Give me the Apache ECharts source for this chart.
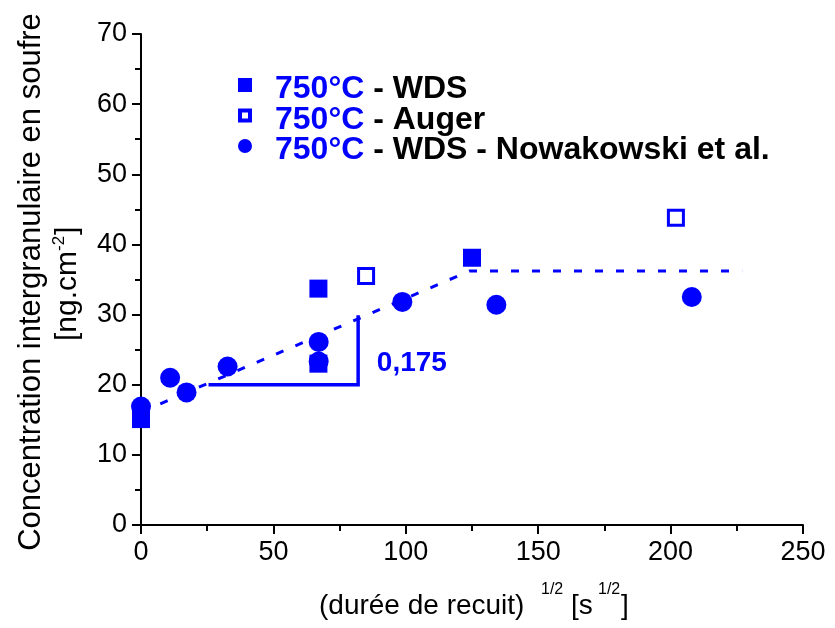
<!DOCTYPE html>
<html>
<head>
<meta charset="utf-8">
<script src="https://cdn.jsdelivr.net/npm/echarts@6/dist/echarts.min.js"></script>
<style>
  html, body { margin: 0; padding: 0; background: #fff; }
  #chart { width: 835px; height: 628px; }
</style>
</head>
<body>
<div id="chart"></div>
<script>
// Sulfur intergranular concentration vs square root of annealing time (750 °C)
const FONT = '"Liberation Sans", Arial, Helvetica, sans-serif';
const BLUE = '#0000ff';

// Series names
const seriesNames = ['750°C - WDS', '750°C - Auger', '750°C - WDS - Nowakowski et al.'];

// WDS measurements
const wdsX = [0, 67, 67, 125];
const wdsY = [15.1, 33.7, 23.0, 38.1];

// Auger measurements
const augerX = [85, 202];
const augerY = [35.5, 43.8];

// WDS data from Nowakowski et al.
const nowakX = [0, 11, 17.2, 32.7, 67.1, 67.1, 98.7, 134.2, 208];
const nowakY = [16.9, 21.0, 18.9, 22.6, 26.1, 23.3, 31.8, 31.4, 32.5];

// Dashed trend: linear growth then plateau
const trendX = [0, 124, 227];
const trendY = [16.1, 36.2, 36.2];

// Slope triangle
const slopeValue = 0.175;
const slopeRunX = [25.5, 82];
const slopeBaseY = 20;
const slopeLabelAt = [102.3, 23.1];

// Axis ranges
const xRange = { min: 0, max: 250, step: 50 };
const yRange = { min: 0, max: 70, step: 10 };

const zip = (xs, ys) => xs.map((x, i) => [x, ys[i]]);

const slopeRise = slopeValue * (slopeRunX[1] - slopeRunX[0]);
const slopeTriangle = [
  [slopeRunX[0], slopeBaseY],
  [slopeRunX[1], slopeBaseY],
  [slopeRunX[1], slopeBaseY + slopeRise]
];

const axisCommon = {
  axisLine: { show: true, onZero: false, lineStyle: { color: '#000', width: 2 } },
  axisTick: { show: true, inside: false, length: 9, lineStyle: { color: '#000', width: 2 } },
  minorTick: { show: true, splitNumber: 2, length: 6, lineStyle: { color: '#000', width: 2 } },
  splitLine: { show: false },
  minorSplitLine: { show: false },
  axisLabel: { color: '#000', fontSize: 27, fontFamily: FONT, margin: 14 }
};

const chart = echarts.init(document.getElementById('chart'), null, { renderer: 'canvas' });

const titleText = { fill: '#000', fontFamily: FONT };
const legendRich = { color: BLUE, fontFamily: FONT, fontSize: 32, fontWeight: 'bold', lineHeight: 29 };

chart.setOption({
  animation: false,
  backgroundColor: '#fff',
  grid: { left: 141, right: 32, top: 34, bottom: 103, containLabel: false },
  xAxis: Object.assign({ type: 'value', min: xRange.min, max: xRange.max, interval: xRange.step }, axisCommon),
  yAxis: Object.assign({ type: 'value', min: yRange.min, max: yRange.max, interval: yRange.step }, axisCommon),
  legend: {
    data: [
      { name: seriesNames[0] },
      {
        name: seriesNames[1],
        icon: 'path://M0 0H14V14H0Z M4 4V10H10V4Z',
        itemStyle: { color: BLUE, borderWidth: 0 }
      },
      { name: seriesNames[2] }
    ],
    orient: 'vertical',
    left: 233,
    top: 61,
    itemGap: -9,
    itemWidth: 14,
    itemHeight: 14,
    selectedMode: false,
    formatter: function (name) {
      const i = name.indexOf(' - ');
      return '{t|' + name.slice(0, i) + '}{k|' + name.slice(i) + '}';
    },
    textStyle: {
      padding: [9, 0, 0, 18],
      fontFamily: FONT,
      fontSize: 32,
      fontWeight: 'bold',
      lineHeight: 29,
      rich: {
        t: legendRich,
        k: Object.assign({}, legendRich, { color: '#000' })
      }
    }
  },
  graphic: [
    // y-axis title, rotated to read bottom-to-top
    {
      type: 'group', x: 0, y: 282, rotation: Math.PI / 2, silent: true,
      children: [
        { type: 'text', x: 0, y: 31, style: Object.assign({ text: 'Concentration intergranulaire en soufre', fontSize: 31, textAlign: 'center', textVerticalAlign: 'middle' }, titleText) },
        { type: 'text', x: -59, y: 68, style: Object.assign({ text: '[ng.cm', fontSize: 30, textAlign: 'left', textVerticalAlign: 'middle' }, titleText) },
        { type: 'text', x: 31, y: 59, style: Object.assign({ text: '-2', fontSize: 17, textAlign: 'left', textVerticalAlign: 'middle' }, titleText) },
        { type: 'text', x: 47, y: 68, style: Object.assign({ text: ']', fontSize: 30, textAlign: 'left', textVerticalAlign: 'middle' }, titleText) }
      ]
    },
    // x-axis title with superscripts
    { type: 'text', x: 319, y: 606, silent: true, style: Object.assign({ text: '(durée de recuit)', fontSize: 28, textAlign: 'left', textVerticalAlign: 'middle' }, titleText) },
    { type: 'text', x: 541, y: 590, silent: true, style: Object.assign({ text: '1/2', fontSize: 16, textAlign: 'left', textVerticalAlign: 'middle' }, titleText) },
    { type: 'text', x: 571, y: 606, silent: true, style: Object.assign({ text: '[s', fontSize: 28, textAlign: 'left', textVerticalAlign: 'middle' }, titleText) },
    { type: 'text', x: 598, y: 590, silent: true, style: Object.assign({ text: '1/2', fontSize: 16, textAlign: 'left', textVerticalAlign: 'middle' }, titleText) },
    { type: 'text', x: 621, y: 606, silent: true, style: Object.assign({ text: ']', fontSize: 28, textAlign: 'left', textVerticalAlign: 'middle' }, titleText) }
  ],
  series: [
    {
      name: 'trend',
      type: 'line',
      data: zip(trendX, trendY),
      symbol: 'none',
      silent: true,
      z: 1,
      lineStyle: { color: BLUE, width: 3, type: [8, 13] }
    },
    {
      name: 'slope',
      type: 'line',
      data: slopeTriangle,
      symbol: 'none',
      silent: true,
      z: 1,
      lineStyle: { color: BLUE, width: 3.5, type: 'solid', cap: 'butt', join: 'miter' }
    },
    {
      name: 'slopeLabel',
      type: 'scatter',
      data: [slopeLabelAt],
      symbolSize: 0,
      silent: true,
      itemStyle: { opacity: 1 },
      label: {
        show: true,
        position: 'inside',
        formatter: function () { return slopeValue.toFixed(3).replace('.', ','); },
        color: BLUE,
        opacity: 1,
        fontFamily: FONT,
        fontSize: 28,
        fontWeight: 'bold'
      }
    },
    {
      name: seriesNames[0],
      type: 'scatter',
      data: zip(wdsX, wdsY),
      symbol: 'rect',
      symbolSize: 18,
      z: 3,
      itemStyle: { color: BLUE, opacity: 1 }
    },
    {
      name: seriesNames[1],
      type: 'scatter',
      data: zip(augerX, augerY),
      symbol: 'rect',
      symbolSize: 15,
      z: 3,
      itemStyle: { color: '#fff', borderColor: BLUE, borderWidth: 3, opacity: 1 }
    },
    {
      name: seriesNames[2],
      type: 'scatter',
      data: zip(nowakX, nowakY),
      symbol: 'circle',
      symbolSize: 20,
      z: 3,
      itemStyle: { color: BLUE, opacity: 1 }
    }
  ]
});
</script>
</body>
</html>
